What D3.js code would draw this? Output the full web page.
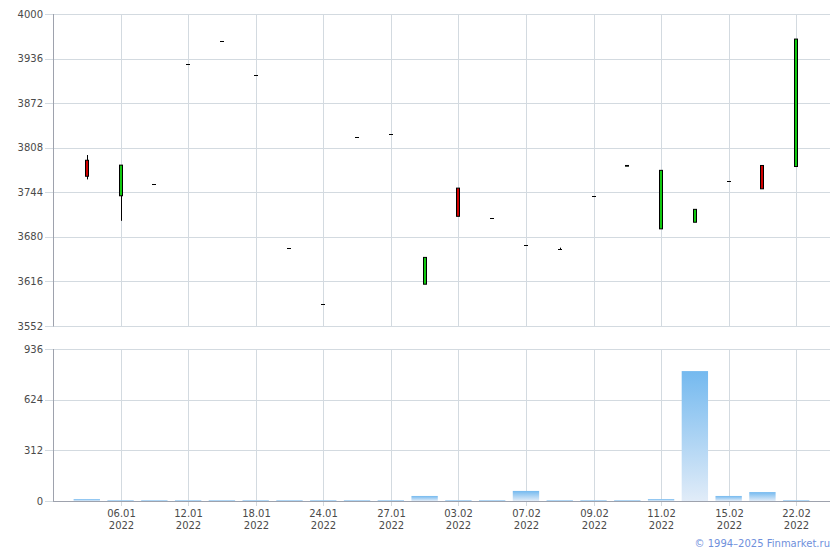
<!DOCTYPE html>
<html>
<head>
<meta charset="utf-8">
<script src="https://cdn.jsdelivr.net/npm/d3@7"></script>
<style>
  html, body { margin: 0; padding: 0; background: #fff; }
  svg { display: block; }
  text { font-family: "DejaVu Sans", Verdana, sans-serif; font-size: 10px; }
</style>
</head>
<body>
<svg id="chart" width="840" height="550"></svg>
<script>
// ---- data ----
const dates = ["05.01","06.01","10.01","12.01","14.01","18.01","20.01","24.01","26.01","27.01","31.01",
               "03.02","04.02","07.02","08.02","09.02","10.02","11.02","14.02","15.02","17.02","22.02"];
const year = "2022";
const openVals  = [3790, 3739, 3756, 3928, 3961, 3912, 3663.5, 3583, 3824, 3827, 3612,
                   3750, 3706.5, 3668, 3663, 3739, 3781.5, 3691.5, 3701, 3760, 3782.5, 3781];
const highVals  = [3797.5, 3783, 3756, 3928, 3961, 3912, 3663.5, 3583, 3824, 3827, 3650.5,
                   3750, 3706.5, 3668, 3664.5, 3739, 3782.5, 3775.5, 3719.5, 3760, 3782.5, 3964];
const lowVals   = [3762.5, 3703, 3756, 3928, 3961, 3912, 3663.5, 3583, 3824, 3827, 3612,
                   3709.5, 3706.5, 3668, 3661.5, 3739, 3781.5, 3691.5, 3701, 3760, 3749, 3781];
const closeVals = [3767, 3783, 3756, 3928, 3961, 3912, 3663.5, 3583, 3824, 3827, 3650.5,
                   3709.5, 3706.5, 3668, 3663, 3739, 3782.5, 3775.5, 3719.5, 3760, 3749, 3964];
const volumeVals = [12, 5, 5, 5, 5, 5, 5, 5, 5, 5, 31, 5, 5, 62, 5, 5, 5, 12, 800, 31, 55, 5];
const priceTicks = [3552, 3616, 3680, 3744, 3808, 3872, 3936, 4000];
const volumeTicks = [0, 312, 624, 936];
const labelDates = ["06.01","12.01","18.01","24.01","27.01","03.02","07.02","09.02","11.02","15.02","22.02"];
const copyright = "© 1994–2025 Finmarket.ru";

// ---- layout ----
const svg = d3.select("#chart");
const left = 53, right = 830;
const pTop = 14, pBottom = 326;
const vTop = 349, vBottom = 501;
const gridColor = "#d3dae0";
const axisColor = "#9ea2ad";
const textColor = "#4a4a4a";

const x = d3.scalePoint().domain(dates).range([left, right]).padding(1);
const yP = d3.scaleLinear().domain([3552, 4000]).range([pBottom, pTop]);
const yV = d3.scaleLinear().domain([0, 936]).range([vBottom, vTop]);
const cx = d => Math.round(x(d));
const crisp = v => Math.round(v) + 0.5;

// defs gradient
const defs = svg.append("defs");
const grad = defs.append("linearGradient").attr("id", "volGrad")
  .attr("x1", 0).attr("y1", 0).attr("x2", 0).attr("y2", 1);
grad.append("stop").attr("offset", "0%").attr("stop-color", "#74b9ef");
grad.append("stop").attr("offset", "100%").attr("stop-color", "#e1ecf8");

// ---- gridlines ----
function hGrid(scale, ticks) {
  svg.append("g").selectAll("line").data(ticks).join("line")
    .attr("x1", left - 8).attr("x2", right)
    .attr("y1", d => crisp(scale(d))).attr("y2", d => crisp(scale(d)))
    .attr("stroke", gridColor).attr("stroke-width", 1);
}
hGrid(yP, priceTicks);
hGrid(yV, volumeTicks);

svg.append("g").selectAll("line").data(labelDates).join("line")
  .attr("x1", d => cx(d) + 0.5).attr("x2", d => cx(d) + 0.5)
  .attr("y1", pTop).attr("y2", pBottom)
  .attr("stroke", gridColor);
svg.append("g").selectAll("line").data(labelDates).join("line")
  .attr("x1", d => cx(d) + 0.5).attr("x2", d => cx(d) + 0.5)
  .attr("y1", vTop).attr("y2", vBottom + 5)
  .attr("stroke", gridColor);

// ---- y axes ----
function yAxis(scale, ticks, y0, y1) {
  const g = svg.append("g");
  g.append("line").attr("x1", left + 0.5).attr("x2", left + 0.5).attr("y1", y0).attr("y2", y1 + 0.5)
    .attr("stroke", axisColor);
  g.selectAll("text").data(ticks).join("text")
    .attr("x", left - 10).attr("y", d => scale(d) + 3.5)
    .attr("text-anchor", "end").attr("fill", textColor)
    .text(d => d);
}
yAxis(yP, priceTicks, pTop, pBottom);
yAxis(yV, volumeTicks, vTop, vBottom);

// bottom axis line of volume
svg.append("line").attr("x1", left).attr("x2", right).attr("y1", vBottom + 0.5).attr("y2", vBottom + 0.5)
  .attr("stroke", axisColor);

// x labels
const xl = svg.append("g").selectAll("text").data(labelDates).join("text")
  .attr("text-anchor", "middle").attr("fill", textColor);
xl.append("tspan").attr("x", d => cx(d) + 0.5).attr("y", 517).text(d => d);
xl.append("tspan").attr("x", d => cx(d) + 0.5).attr("y", 529).text(year);

// ---- volume bars ----
const barW = x.step() * 0.78;
svg.append("g").selectAll("rect").data(dates).join("rect")
  .attr("x", (d) => x(d) - barW / 2)
  .attr("width", barW)
  .attr("y", (d, i) => yV(volumeVals[i]))
  .attr("height", (d, i) => vBottom - yV(volumeVals[i]))
  .attr("fill", "url(#volGrad)");

// ---- candles ----
const candles = svg.append("g");
dates.forEach((d, i) => {
  const c = cx(d);
  const o = openVals[i], h = highVals[i], l = lowVals[i], cl = closeVals[i];
  if (h > Math.max(o, cl) || l < Math.min(o, cl)) {
    candles.append("line")
      .attr("x1", c + 0.5).attr("x2", c + 0.5)
      .attr("y1", yP(h)).attr("y2", yP(l))
      .attr("stroke", "#000");
  }
  if (o === cl) {
    candles.append("line")
      .attr("x1", c - 2).attr("x2", c + 2)
      .attr("y1", crisp(yP(o))).attr("y2", crisp(yP(o)))
      .attr("stroke", "#000");
  } else {
    const top = yP(Math.max(o, cl)), bot = yP(Math.min(o, cl));
    candles.append("rect")
      .attr("x", c - 1.5).attr("width", 3)
      .attr("y", top).attr("height", Math.max(0.6, bot - top))
      .attr("fill", cl > o ? "#10c810" : "#d00000")
      .attr("stroke", "#000").attr("stroke-width", 1);
  }
});

// copyright
svg.append("text").attr("x", right).attr("y", 547).attr("text-anchor", "end")
  .attr("fill", "#6f90dc").text(copyright);
</script>
</body>
</html>
